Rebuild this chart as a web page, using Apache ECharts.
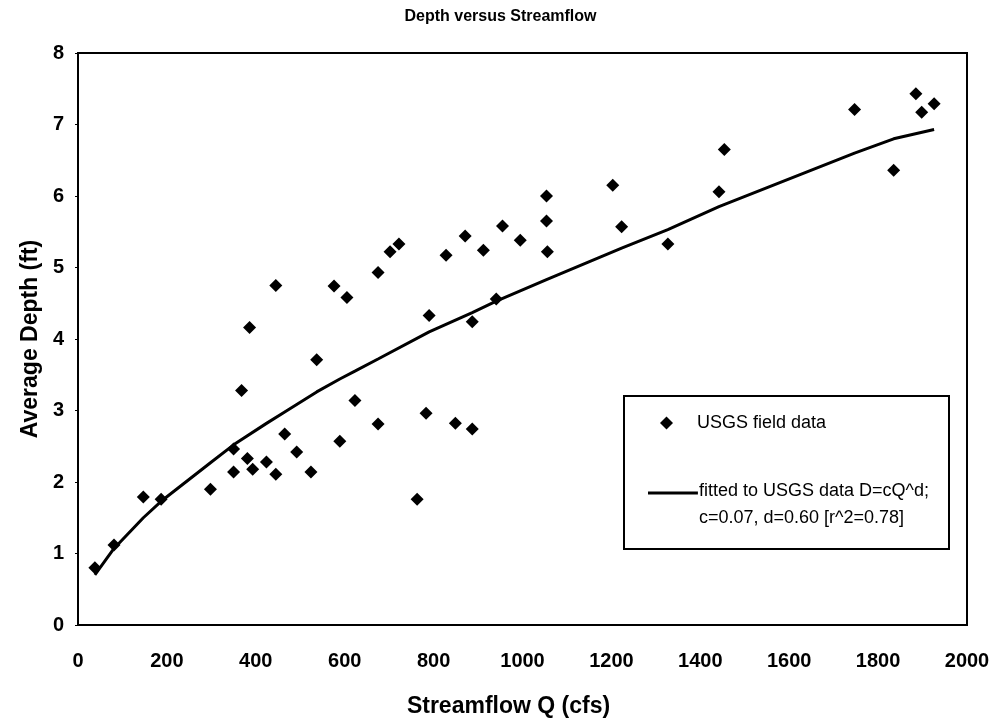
<!DOCTYPE html>
<html>
<head>
<meta charset="utf-8">
<script src="https://cdn.jsdelivr.net/npm/echarts@6/dist/echarts.min.js"></script>
<style>
  html, body { margin: 0; padding: 0; background: #fff; }
  #chart { width: 1001px; height: 726px; }
</style>
</head>
<body>
<div id="chart"></div>
<script>
const flowQ = [38, 81, 147, 187, 298, 350, 350, 368, 381, 393, 386, 424, 445, 445, 465, 492, 524, 537,
  576, 589, 605, 623, 675, 675, 702, 722, 763, 783, 790, 828, 849, 871, 887, 887, 912, 941, 955,
  995, 1054, 1054, 1056, 1203, 1223, 1327, 1442, 1454, 1747, 1835, 1885, 1898, 1926]
const depth = [0.80, 1.12, 1.79, 1.76, 1.90, 2.46, 2.14, 3.28, 2.33, 2.18, 4.16, 2.28, 2.11, 4.75, 2.67, 2.42, 2.14, 3.71,
  4.74, 2.57, 4.58, 3.14, 4.93, 2.81, 5.22, 5.33, 1.76, 2.96, 4.33, 5.17, 2.82, 5.44, 2.74, 4.24, 5.24, 4.56, 5.58,
  5.38, 6.00, 5.65, 5.22, 6.15, 5.57, 5.33, 6.06, 6.65, 7.21, 6.36, 7.43, 7.17, 7.29]

// fitted curve at the data flows
const fitQ = [38, 81, 147, 187, 298, 350, 424, 465, 537, 589, 623, 675, 790, 887, 941, 1054, 1223, 1327, 1442, 1747, 1835, 1926]
const fitD = [0.70, 1.07, 1.50, 1.73, 2.27, 2.52, 2.82, 2.98, 3.26, 3.44, 3.55, 3.72, 4.10, 4.37, 4.53, 4.83, 5.27, 5.53, 5.85, 6.60, 6.80, 6.93]

const xTicks = { min: 0, max: 2000, interval: 200 }
const yTicks = { min: 0, max: 8, interval: 1 }

const pointsName = 'USGS field data'
const fitName = 'fitted to USGS data D=cQ^d; c=0.07, d=0.60 [r^2=0.78]'

const font = 'Arial, "Liberation Sans", sans-serif'

const chart = echarts.init(document.getElementById('chart'), null, { renderer: 'canvas' })

const option = {
  animation: false,
  backgroundColor: '#fff',
  title: {
    text: 'Depth versus Streamflow',
    left: 'center',
    top: 4,
    textStyle: { fontFamily: font, fontSize: 16, fontWeight: 'bold', color: '#000' },
  },
  grid: {
    left: 78, right: 34, top: 53, bottom: 101,
    show: true, borderColor: '#000', borderWidth: 2, backgroundColor: '#fff',
  },
  xAxis: {
    type: 'value',
    min: xTicks.min, max: xTicks.max, interval: xTicks.interval,
    name: 'Streamflow Q (cfs)',
    nameLocation: 'middle',
    nameGap: 70,
    nameTextStyle: { fontFamily: font, fontSize: 23, fontWeight: 'bold', color: '#000', padding: [0, 28, 0, 0] },
    axisLine: { lineStyle: { color: '#000', width: 2 } },
    axisTick: { show: false },
    axisLabel: {
      margin: 26, fontFamily: font, fontSize: 20, fontWeight: 'bold', color: '#000',
      formatter: (v) => String(v),
    },
    splitLine: { show: false },
  },
  yAxis: {
    type: 'value',
    min: yTicks.min, max: yTicks.max, interval: yTicks.interval,
    name: 'Average Depth (ft)',
    nameLocation: 'middle',
    nameGap: 36,
    nameTextStyle: { fontFamily: font, fontSize: 23, fontWeight: 'bold', color: '#000' },
    axisLine: { lineStyle: { color: '#000', width: 2 } },
    axisTick: { show: true, length: 3, lineStyle: { color: '#000' } },
    axisLabel: { margin: 14, fontFamily: font, fontSize: 20, fontWeight: 'bold', color: '#000' },
    splitLine: { show: false },
  },
  legend: [
    {
      data: [{ name: pointsName, icon: 'diamond' }],
      left: 655, top: 409,
      itemWidth: 13, itemHeight: 13, itemGap: 0,
      textStyle: { fontFamily: font, fontSize: 18, color: '#000', padding: [0, 0, 0, 19] },
    },
    {
      data: [{ name: fitName, icon: 'path://M0,0H50V3H0Z M0,27H0.05V27.05H0Z' }],
      left: 643, top: 473,
      itemWidth: 50, itemHeight: 27,
      formatter: (n) => n.replace('; ', ';\n'),
      textStyle: { fontFamily: font, fontSize: 18, lineHeight: 27, color: '#000', padding: [0, 0, 0, -4] },
    },
  ],
  graphic: [{
    type: 'rect',
    shape: { x: 624, y: 396, width: 325, height: 153 },
    style: { fill: '#fff', stroke: '#000', lineWidth: 2 },
    z: 1,
  }],
  series: [
    {
      name: pointsName,
      type: 'scatter',
      symbol: 'diamond',
      symbolSize: 13,
      itemStyle: { color: '#000', opacity: 1 },
      data: flowQ.map((q, i) => [q, depth[i]]),
      z: 3,
    },
    {
      name: fitName,
      type: 'line',
      showSymbol: false,
      symbol: 'none',
      lineStyle: { color: '#000', width: 3 },
      itemStyle: { color: '#000' },
      data: fitQ.map((q, i) => [q, fitD[i]]),
      z: 2,
    },
  ],
}

chart.setOption(option)
</script>
</body>
</html>
